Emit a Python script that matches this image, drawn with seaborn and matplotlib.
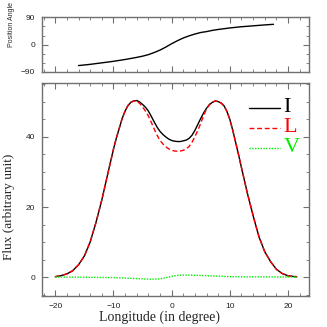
import numpy as np
import pandas as pd
import matplotlib
matplotlib.use('Agg')
import matplotlib.pyplot as plt
import seaborn as sns

# longitude grid (degree) for the profiles
lon = [-20, -19, -18, -17, -16, -15, -14, -13, -12, -11, -10,
       -9.5, -9, -8.5, -8, -7.5, -7, -6.5, -6, -5.5, -5,
       -4.5, -4, -3.5, -3, -2.5, -2, -1.5, -1, -0.5, 0,
       0.5, 1, 1.5, 2, 2.5, 3, 3.5, 4, 4.5, 5,
       5.5, 6, 6.5, 7, 7.5, 8, 8.5, 9, 9.5, 10,
       10.5, 11, 11.5, 12,
       13, 14, 15, 16, 17, 18, 19, 20, 21, 21.5]
flux_I = [0.1, 0.4, 0.9, 1.8, 3.5, 6.0, 10.0, 15.6, 22.0, 29.3, 36.5,
          39.7, 42.5, 45.3, 47.4, 49.0, 49.9, 50.3, 50.4, 50.0, 49.3,
          48.5, 47.4, 45.9, 44.3, 42.8, 41.6, 40.7, 40.0, 39.4, 39.0,
          38.8, 38.7, 38.7, 38.9, 39.1, 39.6, 40.5, 41.9, 43.6, 45.3,
          46.9, 48.2, 49.3, 49.9, 50.3, 50.1, 49.7, 48.9, 47.3, 45.0,
          41.9, 38.4, 34.9, 31.2,
          24.0, 17.5, 11.5, 7.2, 4.4, 2.2, 1.0, 0.35, 0.15, 0.1]
flux_L = [0.1, 0.4, 0.9, 1.8, 3.5, 6.0, 10.0, 15.6, 22.0, 29.3, 36.5,
          39.7, 42.5, 45.3, 47.4, 49.0, 49.9, 50.3, 50.2, 49.6, 48.6,
          47.4, 46.0, 44.2, 42.3, 40.5, 39.0, 38.0, 37.2, 36.6, 36.2,
          36.0, 35.9, 36.0, 36.2, 36.6, 37.3, 38.5, 40.1, 41.9, 43.9,
          46.2, 48.0, 49.2, 49.9, 50.3, 50.1, 49.7, 48.9, 47.3, 45.0,
          41.9, 38.4, 34.9, 31.2,
          24.0, 17.5, 11.5, 7.2, 4.4, 2.2, 1.0, 0.35, 0.15, 0.1]
flux_V = [0.0, 0.0, -0.02, -0.03, -0.05, -0.05, -0.08, -0.1, -0.12, -0.14, -0.15,
          -0.18, -0.22, -0.26, -0.3, -0.34, -0.38, -0.42, -0.45, -0.49, -0.52,
          -0.56, -0.6, -0.62, -0.6, -0.56, -0.5, -0.36, -0.2, 0.0, 0.2,
          0.34, 0.45, 0.52, 0.55, 0.56, 0.55, 0.53, 0.5, 0.48, 0.45,
          0.42, 0.4, 0.35, 0.3, 0.28, 0.25, 0.22, 0.18, 0.14, 0.1,
          0.09, 0.08, 0.07, 0.06,
          0.05, 0.05, 0.05, 0.04, 0.03, 0.02, 0.01, 0.0, 0.0, 0.0]

# position angle swing
pa_lon = [-16, -14, -12, -10, -8, -6, -5, -4, -3, -2.5, -2, -1.5, -1, -0.5, 0,
          0.5, 1, 1.5, 2, 2.5, 3, 4, 5, 6, 7, 8, 10, 12, 14, 16, 17.5]
pa = [-69, -65, -60, -55, -49, -42, -38, -33, -26, -22, -18, -13, -8, -2.5, 3,
      8, 13, 17.5, 22, 25.5, 29, 35, 40, 43, 47, 50, 55, 59, 62, 65, 67]

df = pd.DataFrame({'lon': lon, 'I': flux_I, 'L': flux_L, 'V': flux_V})
df_pa = pd.DataFrame({'lon': pa_lon, 'pa': pa})

sns.set_style('ticks')
plt.rcParams['font.family'] = ['Liberation Sans', 'DejaVu Sans']
grey = '#707070'
plt.rcParams.update({
    'axes.edgecolor': grey, 'axes.linewidth': 1.0,
    'xtick.color': grey, 'ytick.color': grey,
    'xtick.labelcolor': '#222222', 'ytick.labelcolor': '#222222',
    'xtick.direction': 'in', 'ytick.direction': 'in',
    'xtick.top': True, 'ytick.right': True,
    'xtick.major.size': 4, 'ytick.major.size': 4,
    'xtick.minor.size': 2, 'ytick.minor.size': 2,
    'xtick.labelsize': 6, 'ytick.labelsize': 6,
})

fig = plt.figure(figsize=(3.27, 3.27), dpi=100)
ax_top = fig.add_axes([0.128, 0.780, 0.817, 0.167])
ax = fig.add_axes([0.128, 0.095, 0.817, 0.651])

xlim = (-22.3, 23.6)
serif = ['Liberation Serif', 'DejaVu Serif']

sns.lineplot(data=df_pa, x='lon', y='pa', ax=ax_top, color='black', lw=1.0)
ax_top.set_xlim(*xlim)
ax_top.set_ylim(-90, 90)
ax_top.set_yticks([-90, 0, 90])
ax_top.set_yticks(np.arange(-90, 91, 30), minor=True)
ax_top.set_xticks(np.arange(-20, 21, 10))
ax_top.set_xticks(np.arange(-22, 24, 2), minor=True)
ax_top.tick_params(which='both', labelbottom=False)
ax_top.tick_params(axis='y', pad=5)
ax_top.set_xlabel('')
ax_top.set_ylabel('Position Angle', fontsize=5)
ax_top.yaxis.set_label_coords(-0.101, 0.86)

styles = [('I', 'black', '-'), ('L', 'red', (0, (3.5, 2))), ('V', '#00ee00', (0, (1, 1)))]
for name, col, ls in styles:
    sns.lineplot(data=df, x='lon', y=name, ax=ax, color=col, linestyle=ls, lw=1.0)

ax.set_xlim(*xlim)
ax.set_ylim(-5.4, 55.4)
ax.set_xticks(np.arange(-20, 21, 10))
ax.set_xticks(np.arange(-22, 24, 2), minor=True)
ax.set_yticks([0, 20, 40])
ax.set_yticks(np.arange(-5, 56, 5), minor=True)
ax.tick_params(axis='x', pad=5)
ax.tick_params(axis='y', pad=5)
ax.set_xlabel('Longitude (in degree)', family=serif, fontsize=10)
ax.set_ylabel('Flux (arbitrary unit)', family=serif, fontsize=9.5)
ax.xaxis.set_label_coords(0.442, -0.07)
ax.yaxis.set_label_coords(-0.101, 0.42)

# legend drawn by hand, PGPLOT style
for i, (name, col, ls) in enumerate(styles):
    yy = 0.885 - i * 0.095
    ax.plot([0.775, 0.891], [yy, yy], transform=ax.transAxes, color=col, linestyle=ls, lw=1.0)
    ax.text(0.905, yy, name, transform=ax.transAxes, color=col, fontsize=16,
            family=serif, va='center', ha='left')

fig.savefig('out.png', dpi=100)
